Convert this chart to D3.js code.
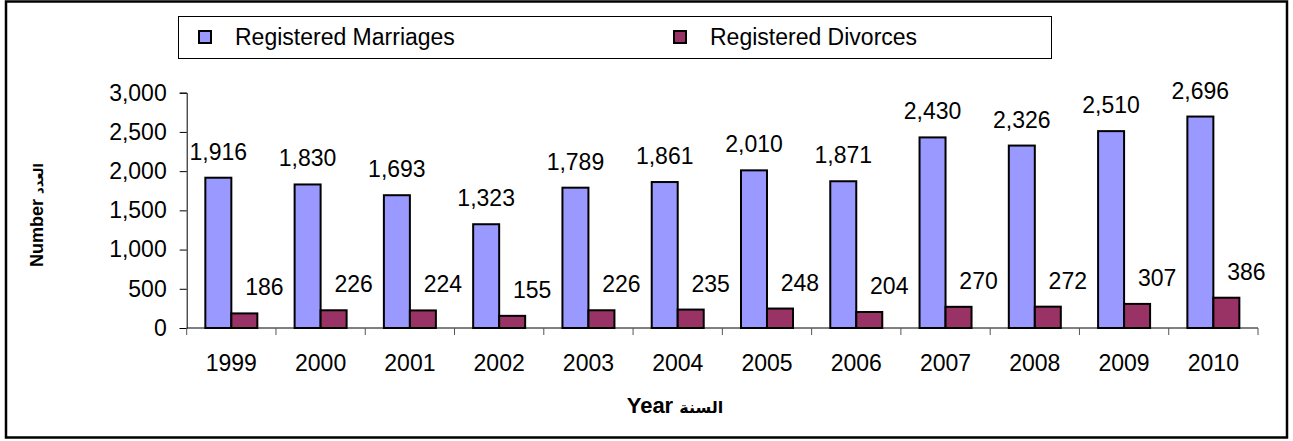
<!DOCTYPE html>
<html>
<head>
<meta charset="utf-8">
<script src="https://cdn.jsdelivr.net/npm/d3@7"></script>
<style>
  body { margin: 0; background: #fff; }
  svg { display: block; font-family: "Liberation Sans", Arial, "DejaVu Sans", sans-serif; }
</style>
</head>
<body>
<script>
var years = ['1999', '2000', '2001', '2002', '2003', '2004', '2005', '2006', '2007', '2008', '2009', '2010'];
var marriages = [1916, 1830, 1693, 1323, 1789, 1861, 2010, 1871, 2430, 2326, 2510, 2696];
var divorces = [186, 226, 224, 155, 226, 235, 248, 204, 270, 272, 307, 386];
var seriesNames = ['Registered Marriages', 'Registered Divorces'];
var seriesColors = ['#9999ff', '#993366'];
var yTicks = [0, 500, 1000, 1500, 2000, 2500, 3000];

var width = 1293, height = 441;
var plotLeft = 186.7, plotRight = 1258, plotTop = 92.7, plotBottom = 328;
var fontSize = 23;

var svg = d3.select('body').append('svg')
    .attr('width', width)
    .attr('height', height);

// outer frame
svg.append('rect')
    .attr('x', 6).attr('y', 1.5)
    .attr('width', 1281).attr('height', 436)
    .attr('fill', '#fff')
    .attr('stroke', '#000')
    .attr('stroke-width', 2.5);

var x = d3.scaleBand().domain(years).range([plotLeft, plotRight]);
var xs = d3.scaleBand().domain([0, 1]).range([0, x.bandwidth()]).paddingOuter(0.717);
var y = d3.scaleLinear().domain([0, 3000]).range([plotBottom, plotTop]);

var fmt = d3.format(',');

// y axis
var yAxis = svg.append('g')
    .attr('transform', 'translate(' + plotLeft + ',0)')
    .call(d3.axisLeft(y).tickValues(yTicks).tickFormat(fmt).tickSize(7).tickPadding(13));
yAxis.select('.domain').attr('stroke', '#000');
yAxis.selectAll('.tick line').attr('stroke', '#000');
yAxis.selectAll('text').attr('font-size', fontSize).attr('fill', '#000')
    .attr('font-family', '"Liberation Sans", Arial, sans-serif');

// bars
var rows = years.map(function(d, i) {
  return { year: d, values: [marriages[i], divorces[i]] };
});

var groups = svg.selectAll('g.year')
    .data(rows)
    .enter()
    .append('g')
      .attr('class', 'year')
      .attr('transform', function(d) { return 'translate(' + x(d.year) + ',0)'; });

groups.selectAll('rect')
    .data(function(d) { return d.values; })
    .enter()
    .append('rect')
      .attr('x', function(d, i) { return xs(i); })
      .attr('width', xs.bandwidth())
      .attr('y', function(d) { return y(d); })
      .attr('height', function(d) { return plotBottom - y(d); })
      .attr('fill', function(d, i) { return seriesColors[i]; })
      .attr('stroke', '#000')
      .attr('stroke-width', 2);

// value labels (divorce labels sit off to the right, as in the original)
groups.selectAll('text')
    .data(function(d) { return d.values; })
    .enter()
    .append('text')
      .attr('x', function(d, i) { return xs(i) + xs.bandwidth() / 2 + (i === 1 ? 20 : 0); })
      .attr('y', function(d) { return y(d) - 18; })
      .attr('text-anchor', 'middle')
      .attr('font-size', fontSize)
      .text(function(d) { return fmt(d); });

// x axis
svg.append('line')
    .attr('x1', plotLeft).attr('x2', plotRight)
    .attr('y1', plotBottom).attr('y2', plotBottom)
    .attr('stroke', '#000');

var edges = years.map(function(d) { return x(d); }).concat([plotRight]);
svg.selectAll('line.xtick')
    .data(edges)
    .enter()
    .append('line')
      .attr('class', 'xtick')
      .attr('x1', function(d) { return d; })
      .attr('x2', function(d) { return d; })
      .attr('y1', plotBottom)
      .attr('y2', plotBottom + 7)
      .attr('stroke', '#555');

svg.selectAll('text.xlab')
    .data(years)
    .enter()
    .append('text')
      .attr('class', 'xlab')
      .attr('x', function(d) { return x(d) + x.bandwidth() / 2; })
      .attr('y', 371)
      .attr('text-anchor', 'middle')
      .attr('font-size', fontSize)
      .text(function(d) { return d; });

// axis titles
var xTitle = svg.append('text')
    .attr('x', 675)
    .attr('y', 413)
    .attr('text-anchor', 'middle')
    .attr('font-size', 22)
    .attr('font-weight', 'bold');
xTitle.append('tspan').text('Year  ');
xTitle.append('tspan').attr('font-size', 16).text('السنة');

var yTitle = svg.append('text')
    .attr('transform', 'translate(43,215) rotate(-90)')
    .attr('text-anchor', 'middle')
    .attr('font-size', 18)
    .attr('font-weight', 'bold');
yTitle.append('tspan').text('Number  ');
yTitle.append('tspan').attr('font-size', 13).text('العدد');

// legend
var legend = svg.append('g');
legend.append('rect')
    .attr('x', 178.5).attr('y', 16.5)
    .attr('width', 873).attr('height', 42)
    .attr('fill', '#fff')
    .attr('stroke', '#000');

var legendX = [199, 674];
var items = legend.selectAll('g.item')
    .data(seriesNames)
    .enter()
    .append('g')
      .attr('class', 'item')
      .attr('transform', function(d, i) { return 'translate(' + legendX[i] + ',31)'; });

items.append('rect')
    .attr('width', 12).attr('height', 12)
    .attr('fill', function(d, i) { return seriesColors[i]; })
    .attr('stroke', '#000')
    .attr('stroke-width', 2);

items.append('text')
    .attr('x', 36)
    .attr('y', 14)
    .attr('font-size', fontSize)
    .text(function(d) { return d; });
</script>
</body>
</html>
